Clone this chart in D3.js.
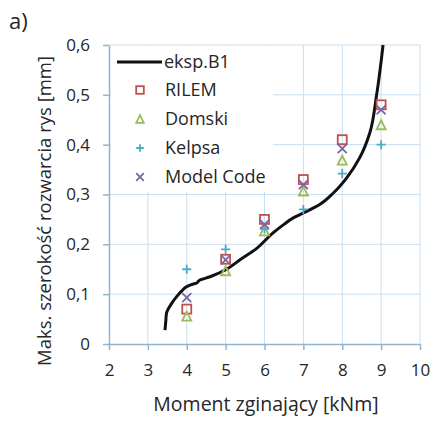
<!DOCTYPE html>
<html><head><meta charset="utf-8">
<script src="https://cdn.jsdelivr.net/npm/d3@7"></script>
<style>body{margin:0;background:#fff;} svg{display:block;} text{font-family:"Open Sans",sans-serif;fill:#262626;}</style>
</head><body><div id="chart"></div>
<script>
const xTicks = [2,3,4,5,6,7,8,9,10];
const yTicks = [0,0.1,0.2,0.3,0.4,0.5,0.6];
const moments = [4,5,6,7,8,9];
const rilem = [0.07,0.17,0.25,0.33,0.41,0.48];
const domski = [0.056,0.147,0.227,0.307,0.369,0.44];
const kelpsa = [0.15,0.19,0.231,0.27,0.342,0.40];
const modelCode = [0.093,0.169,0.24,0.32,0.392,0.47];
const expX = [3.44,3.46,3.48,3.6,3.74,3.88,4.0,4.15,4.25,4.3,4.33,4.6,5.0,5.37,5.8,6.22,6.5,6.74,7.0,7.42,7.77,8.11,8.45,8.71,8.88,9.05];
const expY = [0.028,0.045,0.062,0.08,0.095,0.107,0.115,0.12,0.122,0.126,0.128,0.135,0.149,0.169,0.192,0.223,0.24,0.253,0.263,0.28,0.303,0.333,0.374,0.424,0.498,0.60];

const W=432,H=423;
const svg=d3.select("#chart").append("svg").attr("width",W).attr("height",H);
const x=d3.scaleLinear().domain([2,10]).range([109,420]);
const y=d3.scaleLinear().domain([0,0.6]).range([344,45]);
const axisCol="#8fb5d2", gridCol="#c9def0";

// grid
svg.append("g").selectAll("line").data(xTicks.slice(1)).join("line")
 .attr("x1",d=>x(d)).attr("x2",d=>x(d)).attr("y1",y(0)).attr("y2",y(0.6))
 .attr("stroke",gridCol).attr("stroke-width",1);
svg.append("g").selectAll("line").data(yTicks.slice(1)).join("line")
 .attr("x1",x(2)).attr("x2",x(10)).attr("y1",d=>y(d)).attr("y2",d=>y(d))
 .attr("stroke",gridCol).attr("stroke-width",1);

const fmt=d=>d===0?"0":d3.format(".1f")(d).replace(".",",");
const gx=svg.append("g").attr("transform",`translate(0,${y(0)})`)
 .call(d3.axisBottom(x).tickValues(xTicks).tickSize(6).tickPadding(14).tickSizeOuter(0).tickFormat(d3.format("d")));
const gy=svg.append("g").attr("transform",`translate(${x(2)},0)`)
 .call(d3.axisLeft(y).tickValues(yTicks).tickSize(6).tickPadding(13).tickSizeOuter(0).tickFormat(fmt));
[gx,gy].forEach(g=>{g.select(".domain").attr("stroke",axisCol).attr("stroke-width",1.5);
 g.selectAll(".tick line").attr("stroke",axisCol).attr("stroke-width",1.5);
 g.selectAll(".tick text").attr("font-size",17).attr("fill","#262626").attr("font-family","Open Sans, sans-serif");});

// legend background
svg.append("rect").attr("x",111).attr("y",46).attr("width",162).attr("height",146).attr("fill","#fff");

// experimental line
svg.append("path").datum(expX.map((d,i)=>[d,expY[i]]))
 .attr("d",d3.line().x(d=>x(d[0])).y(d=>y(d[1])).curve(d3.curveMonotoneY))
 .attr("fill","none").attr("stroke","#111").attr("stroke-width",3);

const series=[
 {name:"RILEM",vals:rilem,col:"#c0504d",sym:"sq"},
 {name:"Domski",vals:domski,col:"#9bbb59",sym:"tri"},
 {name:"Kelpsa",vals:kelpsa,col:"#4bacc6",sym:"plus"},
 {name:"Model Code",vals:modelCode,col:"#8064a2",sym:"x"}];
function marker(g,sym,col,s){
 if(sym==="sq") g.append("rect").attr("x",-s).attr("y",-s).attr("width",2*s).attr("height",2*s).attr("fill","none").attr("stroke",col).attr("stroke-width",1.8);
 if(sym==="tri") g.append("path").attr("d",`M0,${-s}L${s},${s}L${-s},${s}Z`).attr("fill","none").attr("stroke",col).attr("stroke-width",1.8);
 if(sym==="plus") g.append("path").attr("d",`M${-s},0H${s}M0,${-s}V${s}`).attr("stroke",col).attr("stroke-width",1.8);
 if(sym==="x") g.append("path").attr("d",`M${-s},${-s}L${s},${s}M${-s},${s}L${s},${-s}`).attr("stroke",col).attr("stroke-width",1.8);
}
series.forEach(s=>{
 moments.forEach((m,i)=>{const g=svg.append("g").attr("transform",`translate(${x(m)},${y(s.vals[i])})`);marker(g,s.sym,s.col,4.5);});
});

// legend
const lg=svg.append("g");
lg.append("line").attr("x1",117).attr("x2",162).attr("y1",62).attr("y2",62).attr("stroke","#111").attr("stroke-width",3);
lg.append("text").attr("x",164).attr("y",62).attr("dy","0.35em").attr("font-size",18).text("eksp.B1");
series.forEach((s,i)=>{const yy=90+i*29;
 const g=lg.append("g").attr("transform",`translate(140,${yy})`);marker(g,s.sym,s.col,3.8);
 lg.append("text").attr("x",165).attr("y",yy).attr("dy","0.35em").attr("font-size",18).text(s.name);});

// labels
svg.append("text").attr("x",266).attr("y",411).attr("text-anchor","middle").attr("font-size",19.5).text("Moment zginający [kNm]");
svg.append("text").attr("transform","translate(51,211) rotate(-90)").attr("text-anchor","middle").attr("font-size",18.5).text("Maks. szerokość rozwarcia rys [mm]");
svg.append("text").attr("x",9).attr("y",29).attr("font-size",22).text("a)");
</script></body></html>
